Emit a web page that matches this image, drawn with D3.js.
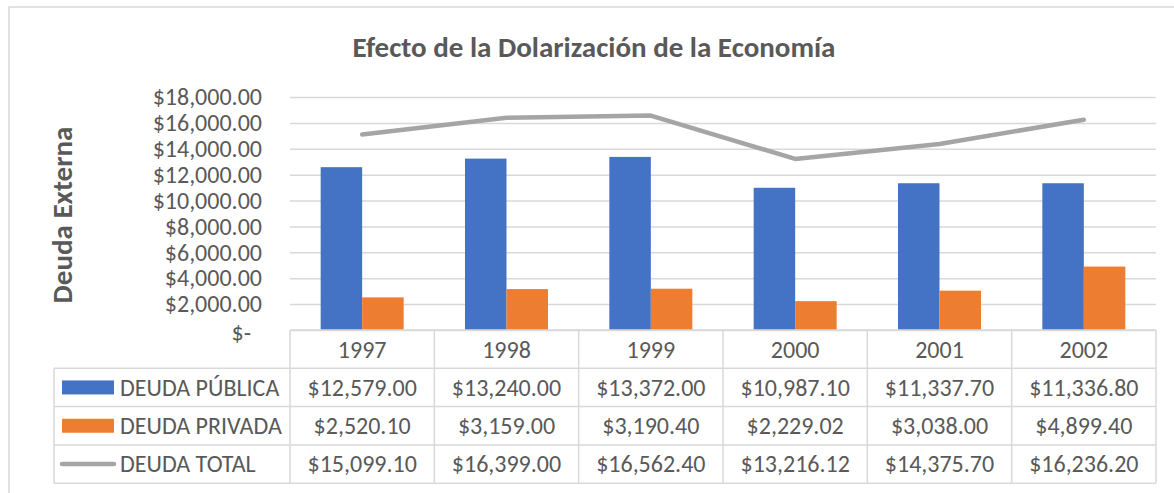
<!DOCTYPE html>
<html>
<head>
<meta charset="utf-8">
<script src="https://cdn.jsdelivr.net/npm/d3@7"></script>
<style>
  body { margin: 0; background: #fff; }
  text { font-family: Carlito, Lato, "Open Sans", sans-serif; fill: #595959; }
</style>
</head>
<body>
<svg id="chart" width="1174" height="493"></svg>
<script>
// ── Data ─────────────────────────────────────────────────────────────────────
const years        = ["1997", "1998", "1999", "2000", "2001", "2002"];
const deudaPublica = [12579.00, 13240.00, 13372.00, 10987.10, 11337.70, 11336.80];
const deudaPrivada = [2520.10, 3159.00, 3190.40, 2229.02, 3038.00, 4899.40];
const deudaTotal   = [15099.10, 16399.00, 16562.40, 13216.12, 14375.70, 16236.20];
const yTicks       = [0, 2000, 4000, 6000, 8000, 10000, 12000, 14000, 16000, 18000];

const seriesNames  = ["DEUDA PÚBLICA", "DEUDA PRIVADA", "DEUDA TOTAL"];
const COLORS       = { pub: "#4472C4", priv: "#ED7D31", total: "#A5A5A5" };
const GRID         = "#D9D9D9";
const FONT_SIZE    = 24;

// ── Layout ───────────────────────────────────────────────────────────────────
const plot   = { left: 290, right: 1156, top: 97, bottom: 330 };
const table  = { left: 54, rowH: 38.3 };
const BAR_W  = 41.5;

const svg = d3.select("#chart");

svg.append("rect")
  .attr("x", 9).attr("y", 7).attr("width", 1200).attr("height", 520)
  .attr("fill", "#fff").attr("stroke", GRID).attr("stroke-width", 1.5);

// ── Scales ───────────────────────────────────────────────────────────────────
const x = d3.scaleBand().domain(years).range([plot.left, plot.right]).padding(0);
const y = d3.scaleLinear().domain([0, 18000]).range([plot.bottom, plot.top]);
const bw = x.bandwidth();
const x1 = d3.scaleBand().domain(["pub", "priv"])
  .range([bw / 2 - BAR_W, bw / 2 + BAR_W]).padding(0);

const fmtMoney = d3.format("$,.2f");

// gridlines
svg.append("g")
  .attr("transform", `translate(${plot.left},0)`)
  .call(d3.axisLeft(y).tickValues(yTicks).tickSize(-(plot.right - plot.left)).tickFormat(""))
  .call(g => g.select(".domain").remove())
  .call(g => g.selectAll("line").attr("stroke", GRID).attr("stroke-width", 1.5));

// y tick labels
svg.append("g")
  .attr("transform", `translate(${plot.left},0)`)
  .call(d3.axisLeft(y).tickValues(yTicks).tickSize(0).tickPadding(28)
    .tickFormat(d => d === 0 ? "$-" : fmtMoney(d)))
  .call(g => g.select(".domain").remove())
  .call(g => g.selectAll("text")
    .attr("font-size", FONT_SIZE).attr("fill", "#595959")
    .style("font-family", "Carlito, Lato, sans-serif"))
  .call(g => g.selectAll(".tick").filter(d => d === 0).select("text").attr("dx", -11).attr("dy", "0.45em"));

// ── Bars ─────────────────────────────────────────────────────────────────────
const groups = svg.append("g").selectAll("g").data(years).join("g")
  .attr("transform", d => `translate(${x(d)},0)`);

groups.append("rect")
  .attr("x", x1("pub")).attr("width", x1.bandwidth())
  .attr("y", (d, i) => y(deudaPublica[i]))
  .attr("height", (d, i) => y(0) - y(deudaPublica[i]))
  .attr("fill", COLORS.pub);

groups.append("rect")
  .attr("x", x1("priv")).attr("width", x1.bandwidth())
  .attr("y", (d, i) => y(deudaPrivada[i]))
  .attr("height", (d, i) => y(0) - y(deudaPrivada[i]))
  .attr("fill", COLORS.priv);

// ── Total line ───────────────────────────────────────────────────────────────
const line = d3.line()
  .x((d, i) => x(years[i]) + bw / 2)
  .y(d => y(d));

svg.append("path")
  .datum(deudaTotal)
  .attr("d", line)
  .attr("fill", "none")
  .attr("stroke", COLORS.total)
  .attr("stroke-width", 4.5)
  .attr("stroke-linecap", "round")
  .attr("stroke-linejoin", "round");

// ── Data table ───────────────────────────────────────────────────────────────
const tbl = svg.append("g");
const rowY = i => plot.bottom + i * table.rowH;   // i = 0 header top
const tableBottom = rowY(4);

// horizontal rules
[0, 1, 2, 3, 4].forEach(i => {
  tbl.append("line")
    .attr("x1", i === 0 ? plot.left : table.left).attr("x2", plot.right)
    .attr("y1", rowY(i)).attr("y2", rowY(i))
    .attr("stroke", GRID).attr("stroke-width", 1.5);
});
// vertical rules
tbl.append("line")
  .attr("x1", table.left).attr("x2", table.left)
  .attr("y1", rowY(1)).attr("y2", tableBottom)
  .attr("stroke", GRID).attr("stroke-width", 1.5);
years.concat(["end"]).forEach((yr, i) => {
  const xx = i < years.length ? x(yr) : plot.right;
  tbl.append("line")
    .attr("x1", xx).attr("x2", xx)
    .attr("y1", rowY(0)).attr("y2", tableBottom)
    .attr("stroke", GRID).attr("stroke-width", 1.5);
});

// header
tbl.selectAll(".hdr").data(years).join("text")
  .attr("class", "hdr")
  .attr("x", d => x(d) + bw / 2)
  .attr("y", rowY(0) + table.rowH / 2)
  .attr("dy", "0.35em")
  .attr("text-anchor", "middle")
  .attr("font-size", FONT_SIZE)
  .text(d => d);

// value rows
[deudaPublica, deudaPrivada, deudaTotal].forEach((vals, r) => {
  tbl.selectAll(".row" + r).data(vals).join("text")
    .attr("class", "row" + r)
    .attr("x", (d, i) => x(years[i]) + bw / 2)
    .attr("y", rowY(r + 1) + table.rowH / 2)
    .attr("dy", "0.35em")
    .attr("text-anchor", "middle")
    .attr("font-size", FONT_SIZE)
    .text(d => fmtMoney(d));
});

// legend keys + labels
seriesNames.forEach((name, r) => {
  const cy = rowY(r + 1) + table.rowH / 2;
  if (r < 2) {
    tbl.append("rect")
      .attr("x", 62).attr("y", cy - 7).attr("width", 52).attr("height", 14)
      .attr("fill", r === 0 ? COLORS.pub : COLORS.priv);
  } else {
    tbl.append("line")
      .attr("x1", 62).attr("x2", 114).attr("y1", cy).attr("y2", cy)
      .attr("stroke", COLORS.total).attr("stroke-width", 4.5).attr("stroke-linecap", "round");
  }
  tbl.append("text")
    .attr("x", 120).attr("y", cy).attr("dy", "0.35em")
    .attr("font-size", FONT_SIZE)
    .text(name);
});

// ── Titles ───────────────────────────────────────────────────────────────────
svg.append("text")
  .attr("x", 594).attr("y", 47).attr("dy", "0.35em")
  .attr("text-anchor", "middle")
  .attr("font-size", 29).attr("font-weight", "bold")
  .text("Efecto de la Dolarización de la Economía");

svg.append("text")
  .attr("transform", "translate(62,215) rotate(-90)")
  .attr("dy", "0.35em")
  .attr("text-anchor", "middle")
  .attr("font-size", 29).attr("font-weight", "bold")
  .text("Deuda Externa");
</script>
</body>
</html>
